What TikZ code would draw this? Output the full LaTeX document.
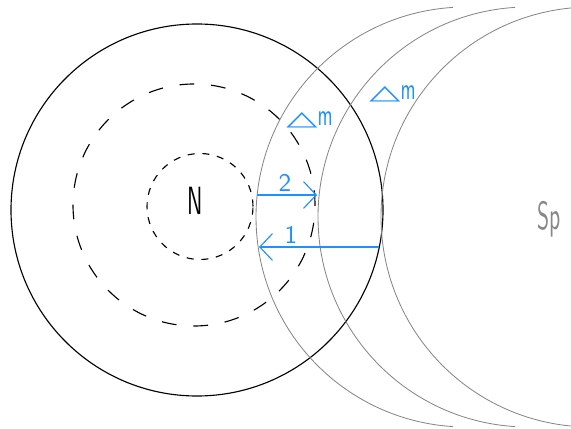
\documentclass[tikz,border=0pt]{standalone}
\usepackage{fontspec}
\usepackage{tikz}
\usetikzlibrary{arrows.meta}
\newfontfamily\cadfont[FakeStretch=0.55]{lmsans10-regular.otf}
\newfontfamily\labfont{lmsans10-regular.otf}
\newfontfamily\symfont{DejaVu Sans}
\definecolor{nucblue}{RGB}{30,144,255}
\definecolor{nucgray}{RGB}{135,135,135}
\newcommand{\dmass}{{\symfont\scalebox{1.6}[0.8]{△}}\scalebox{0.75}[1.2]{m}}

\begin{document}
\begin{tikzpicture}[x=0.025cm,y=0.025cm,
  ring/.style={draw=black,line width=.8pt},
  shell/.style={draw=black,line width=.8pt,dash pattern=on 10.5pt off 12pt},
  core/.style={draw=black,line width=.8pt,dash pattern=on 5pt off 5.5pt},
  front/.style={draw=nucgray,line width=.6pt},
  bigtext/.style={font=\cadfont\fontsize{28}{30}\selectfont,inner sep=0pt},
  steplabel/.style={font=\labfont\fontsize{18}{20}\selectfont,text=nucblue,inner sep=0pt,anchor=base},
  stepmove/.style={-{Straight Barb[length=9pt,width=19pt]},draw=nucblue,line width=.8pt}]

\useasboundingbox (0,0) rectangle (571,428);
% nucleus and shells
\draw[ring] (197,218) circle[radius=186];
\draw[shell] (194,223) circle[radius=121];
\draw[core] (200,221.5) circle[radius=53];
\node[bigtext] (nuc) at (195,227) {N};
% spreading fronts
\draw[front] (466,211) ++(93.5:210) arc[start angle=93.5,end angle=266.5,radius=210];
\draw[front] (528,211) ++(93.5:210) arc[start angle=93.5,end angle=266.5,radius=210];
\draw[front] (591,211) ++(95.5:210) arc[start angle=95.5,end angle=264.5,radius=210];
\node[bigtext,text=nucgray,anchor=base] (sp) at (549,198) {Sp};
% steps
\coordinate (twofrom) at (257,233);
\coordinate (twoto) at (317,233);
\coordinate (onefrom) at (379,181);
\coordinate (oneto) at (259,181);
\draw[stepmove] (twofrom) -- (twoto);
\draw[stepmove] (onefrom) -- (oneto);
\node[steplabel] (steptwo) at (285,236) {2};
\node[steplabel] (stepone) at (291,185) {1};
\node[steplabel] (dmone) at (309.5,302) {\dmass};
\node[steplabel] (dmtwo) at (392.5,328) {\dmass};

\end{tikzpicture}
\end{document}
